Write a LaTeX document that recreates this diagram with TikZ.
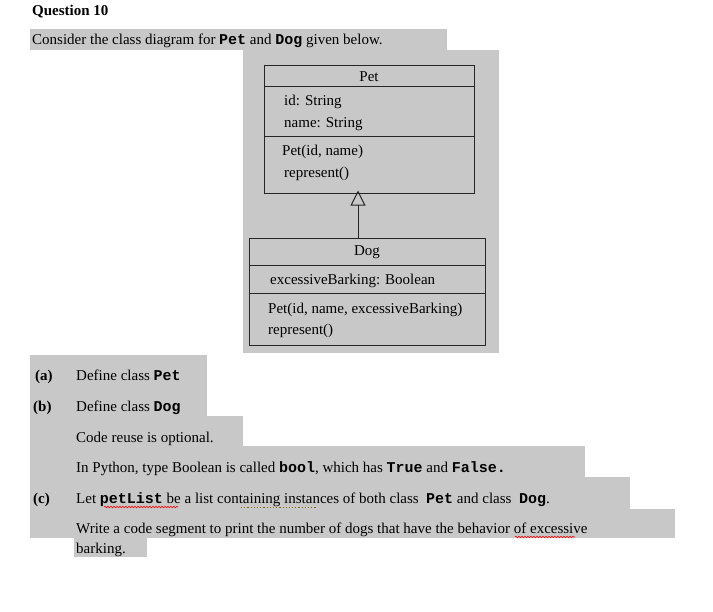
\documentclass[tikz,border=0pt]{standalone}
\usepackage{fontspec}
\setmainfont{Liberation Serif}
\newfontfamily\cour{Liberation Mono}
\usetikzlibrary{arrows.meta,decorations.pathmorphing}
\definecolor{hl}{RGB}{200,200,200}
\newcommand{\cd}[1]{{\cour\bfseries #1}}
\tikzset{
  txt/.style={anchor=base west,inner sep=0pt,font=\fontsize{15bp}{18bp}\selectfont},
  umlbox/.style={draw=black!85,line width=1bp,fill=hl,inner sep=0pt},
  hlrect/.style={fill=hl,draw=none},
  wavy/.style={draw=red,line width=0.6bp,decorate,decoration={snake,amplitude=0.8bp,segment length=3bp}}
}
\begin{document}
\begin{tikzpicture}[x=1bp,y=-1bp]
\useasboundingbox (0,0) rectangle (713,612);
\fill[white] (0,0) rectangle (713,612);
% highlights
\fill[hl] (30,29) rectangle (447,50);
\fill[hl] (243,50) rectangle (499,353);
\fill[hl] (30,355) rectangle (207,416);
\fill[hl] (30,416) rectangle (243,446);
\fill[hl] (30,446) rectangle (585,477);
\fill[hl] (30,477) rectangle (630,509);
\fill[hl] (30,509) rectangle (675,538);
\fill[hl] (74,538) rectangle (147,557);
% texts
\node[txt,font=\fontsize{15bp}{18bp}\selectfont\bfseries] (q) at (32,16) {Question 10};
\node[txt] (t0) at (32,45) {Consider the class diagram for \cd{Pet} and \cd{Dog} given below.};
\node[txt,font=\fontsize{15bp}{18bp}\selectfont\bfseries] (la) at (35,380) {(a)};
\node[txt] (ta) at (76,380) {Define class \cd{Pet}};
\node[txt,font=\fontsize{15bp}{18bp}\selectfont\bfseries] (lb) at (33,411) {(b)};
\node[txt] (tb) at (76,411) {Define class \cd{Dog}};
\node[txt] (tb2) at (76,442) {Code reuse is optional.};
\node[txt] (tb3) at (76,472) {In Python, type Boolean is called \cd{bool}, which has \cd{True} and \cd{False.}};
\node[txt,font=\fontsize{15bp}{18bp}\selectfont\bfseries] (lc) at (33,503) {(c)};
\node[txt] (tc) at (76,503) {Let \cd{petList} be a list containing instances of both class\ \ \cd{Pet} and class\ \ \cd{Dog}.};
\node[txt] (tc2) at (76,533) {Write a code segment to print the number of dogs that have the behavior of excessive};
\node[txt] (tc3) at (76,553) {barking.};
\draw[wavy] (104,507) -- (178,507);
\draw[wavy] (515,537) -- (575,537);
\draw[draw={rgb,255:red,140;green,100;blue,20},line width=1.2bp,dotted] (241,507.5) -- (317,507.5);
% UML
\node[umlbox,minimum width=210bp,minimum height=127bp] (pet) at (369,129.5) {};
\draw[line width=1bp,draw=black!85] (264,87) -- (474,87) (264,137) -- (474,137);
\node[font=\fontsize{15bp}{18bp}\selectfont] (petn) at (369,76.5) {Pet};
\node[txt] (p1) at (284,106) {id: String};
\node[txt] (p2) at (284,128) {name: String};
\node[txt] (p3) at (282,156) {Pet(id, name)};
\node[txt] (p4) at (284,178) {represent()};
\node[umlbox,minimum width=236bp,minimum height=107bp] (dog) at (367,291.5) {};
\draw[line width=1bp,draw=black!85] (249,265) -- (485,265) (249,293) -- (485,293);
\node[font=\fontsize{15bp}{18bp}\selectfont] (dogn) at (367,252) {Dog};
\node[txt] (d1) at (270,284) {excessiveBarking: Boolean};
\node[txt] (d2) at (268,313) {Pet(id, name, excessiveBarking)};
\node[txt] (d3) at (268,334) {represent()};
\draw[line width=1bp,draw=black!85,-{Triangle[open,length=15bp,width=15bp]}] (dog.north -| 358,0) -- ([yshift=3bp]pet.south -| 358,0);
\end{tikzpicture}
\end{document}
